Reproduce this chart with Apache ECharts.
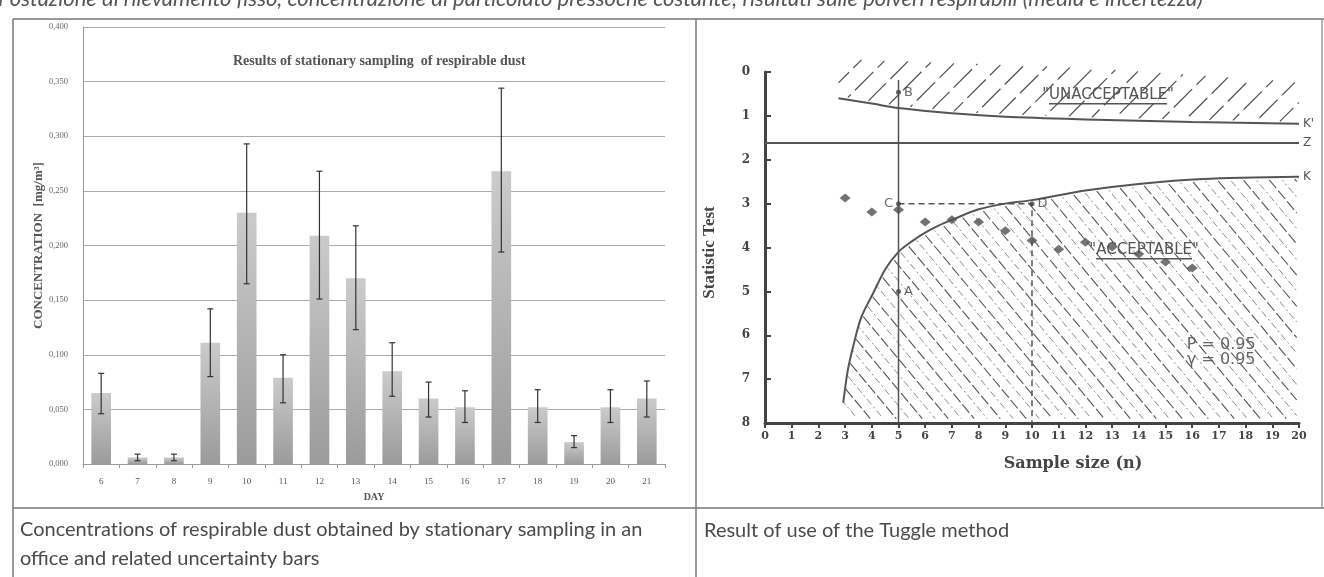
<!DOCTYPE html>
<html>
<head>
<meta charset="utf-8">
<script src="https://cdn.jsdelivr.net/npm/echarts@6/dist/echarts.min.js"></script>
<style>
  html, body { margin: 0; padding: 0; background: #fff; }
  #c { width: 1324px; height: 577px; }
</style>
</head>
<body>
<div id="c"></div>
<script>
// ---- Respirable dust, stationary sampling (mg/m3) ----
const days = ['6','7','8','9','10','11','12','13','14','15','16','17','18','19','20','21'];
const dustMean = [0.065,0.006,0.006,0.111,0.230,0.079,0.209,0.170,0.085,0.060,0.052,0.268,0.052,0.020,0.052,0.060];
const dustLow  = [0.046,0.003,0.003,0.080,0.165,0.056,0.151,0.123,0.062,0.043,0.038,0.194,0.038,0.015,0.038,0.043];
const dustHigh = [0.083,0.009,0.009,0.142,0.293,0.100,0.268,0.218,0.111,0.075,0.067,0.344,0.068,0.026,0.068,0.076];

// ---- Tuggle method: sample size vs statistic test ----
const sampleSize = [3,4,5,6,7,8,9,10,11,12,13,14,15,16];
const statTest   = [2.87,3.19,3.14,3.42,3.37,3.42,3.62,3.84,4.04,3.88,3.99,4.15,4.33,4.47];

// acceptance limit K
const kN = [2.93,3.1,3.3,3.6,4.06,4.5,5.0,5.5,6.0,6.5,7.0,8.0,9.0,10.0,12.0,14.0,16.4,20.0];
const kT = [7.54,6.8,6.26,5.6,5.03,4.5,4.1,3.86,3.66,3.5,3.37,3.13,3.0,2.92,2.7,2.55,2.44,2.39];
// rejection limit K'
const kpN = [2.75,4,5,7,9,12,16,20];
const kpT = [0.6,0.72,0.82,0.94,1.02,1.08,1.14,1.18];
// upper edge of the rejection hatching
const rejTopN = [2.75,12,20];
const rejTopT = [-0.3,-0.1,0.23];
// reference level Z
const zLevel = 1.62;

// reference points of the construction
const refPoints = [
  { name: 'B', value: [5, 0.46], pos: 'right' },
  { name: 'C', value: [5, 3.0],  pos: 'left'  },
  { name: 'A', value: [5, 5.0],  pos: 'right' },
  { name: 'D', value: [10, 3.0], pos: 'right' }
];
const zoneLabels = ['UNACCEPTABLE', 'ACCEPTABLE'];
const zoneN = [12.85, 14.2];
const zoneT = [0.52, 4.05];
const paramLabels = ['P = 0.95', 'γ = 0.95'];
const paramN = [15.8, 15.8];
const paramT = [6.22, 6.56];

const captionLeft = ['Concentrations of respirable dust obtained by stationary sampling in an',
                     'office and related uncertainty bars'];
const captionRight = 'Result of use of the Tuggle method';
const headerLine = 'Postazione di rilevamento fisso, concentrazione di particolato pressoché costante; risultati sulle polveri respirabili (media e incertezza)';

// keep "t" and "i" as separate glyphs
const noLig = s => s.replace(/t(?=i)/g, 't\u200C');

const measureCtx = document.createElement('canvas').getContext('2d');
function textWidth(t, font) { measureCtx.font = font; return measureCtx.measureText(t).width; }

function interp(pts, x) {
  if (x <= pts[0][0]) return pts[0][1];
  for (let i = 1; i < pts.length; i++) {
    if (x <= pts[i][0]) {
      const a = pts[i - 1], b = pts[i];
      return a[1] + (b[1] - a[1]) * (x - a[0]) / (b[0] - a[0]);
    }
  }
  return pts[pts.length - 1][1];
}

// Parallel hatch lines of pixel slope `slope`, clipped to the band
// between topFn(x) and botFn(x) for xMin <= x <= xMax.
function hatchLines(xMin, xMax, topFn, botFn, slope, spacing, styleFor) {
  const out = [];
  let yMin = Infinity, yMax = -Infinity;
  for (let x = xMin; x <= xMax; x += 2) {
    yMin = Math.min(yMin, topFn(x)); yMax = Math.max(yMax, botFn(x));
  }
  const yRef = yMax;
  const corners = [[xMin, yMin], [xMin, yMax], [xMax, yMin], [xMax, yMax]];
  const x0s = corners.map(c => c[0] - (c[1] - yRef) / slope);
  const lo = Math.min.apply(null, x0s), hi = Math.max.apply(null, x0s);
  let idx = 0;
  for (let x0 = lo; x0 <= hi; x0 += spacing, idx++) {
    let start = null, prev = null;
    const flush = () => {
      if (start && prev && Math.hypot(prev[0] - start[0], prev[1] - start[1]) > 2) {
        out.push({ type: 'line', shape: { x1: start[0], y1: start[1], x2: prev[0], y2: prev[1] }, style: styleFor(idx) });
      }
      start = null; prev = null;
    };
    for (let x = xMin; x <= xMax; x += 0.5) {
      const y = yRef + slope * (x - x0);
      const inside = y >= topFn(x) && y <= botFn(x);
      if (inside) { if (!start) start = [x, y]; prev = [x, y]; }
      else if (start) flush();
    }
    flush();
  }
  return out;
}

const chart = echarts.init(document.getElementById('c'));

const option = {
  backgroundColor: '#fff',
  animation: false,
  title: {
    text: 'Results of stationary sampling  of respirable dust',
    left: 228, top: 49,
    textStyle: { fontFamily: 'Liberation Serif', fontWeight: 'bold', fontSize: 14, color: '#555' }
  },
  grid: [
    { left: 83, top: 27, width: 582, height: 437 },
    { left: 765, top: 72, width: 534, height: 351 }
  ],
  xAxis: [
    {
      type: 'category', gridIndex: 0, data: days,
      axisLine: { lineStyle: { color: '#999' } },
      axisTick: { show: true, alignWithLabel: false, length: 4, lineStyle: { color: '#999' } },
      axisLabel: { fontFamily: 'Liberation Serif', fontSize: 9, margin: 13, color: '#555' },
      name: 'DAY', nameLocation: 'middle', nameGap: 28,
      nameTextStyle: { fontFamily: 'Liberation Serif', fontWeight: 'bold', fontSize: 10, color: '#555' }
    },
    {
      type: 'value', gridIndex: 1, min: 0, max: 20, interval: 1,
      axisLine: { show: true, onZero: false, lineStyle: { color: '#444', width: 3 } },
      axisTick: { show: true, length: 5, lineStyle: { color: '#444', width: 2 } },
      splitLine: { show: false },
      axisLabel: { fontFamily: 'DejaVu Serif', fontWeight: 'bold', fontSize: 11, color: '#444', margin: 8 },
      name: 'Sample size (n)', nameLocation: 'middle', nameGap: 33,
      nameTextStyle: { fontFamily: 'DejaVu Serif', fontWeight: 'bold', fontSize: 16, color: '#444', padding: [0, 0, 0, 82] }
    }
  ],
  yAxis: [
    {
      type: 'value', gridIndex: 0, min: 0, max: 0.4, interval: 0.05,
      axisLine: { show: true, lineStyle: { color: '#999' } },
      axisTick: { show: false },
      splitLine: { lineStyle: { color: '#aaa' } },
      axisLabel: { fontFamily: 'Liberation Serif', color: '#666', fontSize: 8.5, margin: 15,
                   formatter: v => v.toFixed(3).replace('.', ',') },
      name: 'CONCENTRATION  [mg/m³]', nameLocation: 'middle', nameGap: 37,
      nameTextStyle: { fontFamily: 'Liberation Serif', fontWeight: 'bold', fontSize: 13, color: '#555' }
    },
    {
      type: 'value', gridIndex: 1, min: 0, max: 8, interval: 1, inverse: true,
      axisLine: { show: true, onZero: false, lineStyle: { color: '#444', width: 3 } },
      axisTick: { show: true, inside: true, length: 6, lineStyle: { color: '#444', width: 2 } },
      splitLine: { show: false },
      axisLabel: { fontFamily: 'DejaVu Serif', fontWeight: 'bold', fontSize: 12, color: '#444', margin: 15 },
      name: 'Statistic Test', nameLocation: 'middle', nameGap: 47,
      nameTextStyle: { fontFamily: 'Liberation Serif', fontWeight: 'bold', fontSize: 17, color: '#444', padding: [0, 10, 0, 0] }
    }
  ],
  series: [
    {
      type: 'bar', xAxisIndex: 0, yAxisIndex: 0, data: dustMean, barWidth: '54%',
      itemStyle: {
        color: new echarts.graphic.LinearGradient(0, 0, 0, 1, [
          { offset: 0, color: '#cbcbcb' }, { offset: 1, color: '#9b9b9b' }
        ])
      }
    },
    {
      // uncertainty bars
      type: 'custom', xAxisIndex: 0, yAxisIndex: 0, z: 10,
      data: days.map((d, i) => [i, dustLow[i], dustHigh[i]]),
      renderItem: (params, api) => {
        const i = api.value(0);
        const lo = api.coord([i, api.value(1)]);
        const hi = api.coord([i, api.value(2)]);
        const w = 3;
        const st = { stroke: '#333', lineWidth: 1.2 };
        return {
          type: 'group', children: [
            { type: 'line', shape: { x1: lo[0], y1: lo[1], x2: hi[0], y2: hi[1] }, style: st },
            { type: 'line', shape: { x1: hi[0] - w, y1: hi[1], x2: hi[0] + w, y2: hi[1] }, style: st },
            { type: 'line', shape: { x1: lo[0] - w, y1: lo[1], x2: lo[0] + w, y2: lo[1] }, style: st }
          ]
        };
      }
    },
    {
      // hatching of the rejection and acceptance zones
      type: 'custom', xAxisIndex: 1, yAxisIndex: 1, z: 1, silent: true,
      data: [[0, 0]],
      renderItem: (params, api) => {
        const px = (n, t) => api.coord([n, t]);
        const kPx = kN.map((n, i) => px(n, kT[i]));
        const kpPx = kpN.map((n, i) => px(n, kpT[i]));
        const topPx = rejTopN.map((n, i) => px(n, rejTopT[i]));
        const bottomY = px(0, 7.9)[1];
        const rej = hatchLines(kpPx[0][0], px(20, 0)[0],
          x => interp(topPx, x), x => interp(kpPx, x) - 2, -1.0, 24,
          i => ({ stroke: '#555', lineWidth: 1.3, lineDash: [26, 6], lineDashOffset: (i * 11) % 32 }));
        const acc = hatchLines(kPx[0][0] + 1, px(20, 0)[0] - 2,
          x => interp(kPx, x) + 2, x => bottomY, 1.2, 13,
          i => (i % 2 === 0
            ? { stroke: '#555', lineWidth: 1.1, lineDash: [11, 3], lineDashOffset: (i * 7) % 14 }
            : { stroke: '#8a8a8a', lineWidth: 1, lineDash: [7, 3, 2, 3], lineDashOffset: (i * 5) % 15 }));
        return { type: 'group', children: rej.concat(acc) };
      }
    },
    {
      type: 'line', xAxisIndex: 1, yAxisIndex: 1, name: "K'",
      data: kpN.map((n, i) => [n, kpT[i]]), smooth: 0.3, symbol: 'none',
      lineStyle: { color: '#555', width: 2 },
      endLabel: { show: true, formatter: "K'", color: '#555', fontFamily: 'DejaVu Sans', fontSize: 12, distance: 4 }
    },
    {
      type: 'line', xAxisIndex: 1, yAxisIndex: 1, name: 'Z',
      data: [[0, zLevel], [20, zLevel]], symbol: 'none',
      lineStyle: { color: '#555', width: 2 },
      endLabel: { show: true, formatter: 'Z', color: '#555', fontFamily: 'DejaVu Sans', fontSize: 12, distance: 4 }
    },
    {
      type: 'line', xAxisIndex: 1, yAxisIndex: 1, name: 'K',
      data: kN.map((n, i) => [n, kT[i]]), smooth: 0.3, symbol: 'none',
      lineStyle: { color: '#555', width: 2 },
      endLabel: { show: true, formatter: 'K', color: '#555', fontFamily: 'DejaVu Sans', fontSize: 12, distance: 4 }
    },
    {
      // construction line at n = 5
      type: 'line', xAxisIndex: 1, yAxisIndex: 1, symbol: 'none',
      data: [[5, 0.18], [5, 8]], lineStyle: { color: '#555', width: 1.5 }
    },
    {
      // C - D and D down to the axis
      type: 'line', xAxisIndex: 1, yAxisIndex: 1, symbol: 'none',
      data: [[5, 3], [10, 3], [10, 8]], lineStyle: { color: '#555', width: 1.5, type: [6, 4] }
    },
    {
      type: 'scatter', xAxisIndex: 1, yAxisIndex: 1, z: 5,
      symbol: 'diamond', symbolSize: [11, 9],
      itemStyle: { color: '#505050' },
      data: sampleSize.map((n, i) => [n, statTest[i]])
    },
    {
      type: 'scatter', xAxisIndex: 1, yAxisIndex: 1, z: 6,
      symbolSize: 5, itemStyle: { color: '#444' },
      data: refPoints.map(p => ({
        name: p.name, value: p.value,
        label: { show: true, formatter: p.name, position: p.pos, distance: 3,
                 color: '#444', fontFamily: 'DejaVu Sans', fontSize: 13 }
      }))
    },
    {
      // zone names and test parameters
      type: 'custom', xAxisIndex: 1, yAxisIndex: 1, z: 7, silent: true,
      data: [[0, 0]],
      renderItem: (params, api) => {
        const children = [];
        const zf = '15px "DejaVu Sans"';
        zoneLabels.forEach((w, i) => {
          const p = api.coord([zoneN[i], zoneT[i]]);
          const half = textWidth(w, zf) / 2;
          children.push({ type: 'text', style: { text: '"' + w + '"', x: p[0], y: p[1], align: 'center', verticalAlign: 'middle', font: zf, fill: '#555' } });
          children.push({ type: 'line', shape: { x1: p[0] - half, y1: p[1] + 9, x2: p[0] + half, y2: p[1] + 9 }, style: { stroke: '#555', lineWidth: 1.6 } });
        });
        paramLabels.forEach((t, i) => {
          const p = api.coord([paramN[i], paramT[i]]);
          children.push({ type: 'text', style: { text: t, x: p[0], y: p[1], align: 'left', verticalAlign: 'middle', font: '16px "DejaVu Sans"', fill: '#666' } });
        });
        return { type: 'group', children };
      }
    }
  ],
  graphic: [
    { type: 'text', style: { x: -2, y: 10, text: headerLine, font: 'italic 22px Lato', fill: '#555', verticalAlign: 'bottom' } },
    { type: 'line', shape: { x1: 13, y1: 19, x2: 1324, y2: 19 }, style: { stroke: '#777', lineWidth: 1.5 } },
    { type: 'line', shape: { x1: 13, y1: 19, x2: 13, y2: 577 }, style: { stroke: '#777', lineWidth: 1.5 } },
    { type: 'line', shape: { x1: 696, y1: 19, x2: 696, y2: 577 }, style: { stroke: '#777', lineWidth: 1.5 } },
    { type: 'line', shape: { x1: 1322, y1: 19, x2: 1322, y2: 508 }, style: { stroke: '#888', lineWidth: 1.2 } },
    { type: 'line', shape: { x1: 13, y1: 508, x2: 1324, y2: 508 }, style: { stroke: '#777', lineWidth: 1.5 } },
    { type: 'text', style: { x: 20, y: 530, text: noLig(captionLeft[0]), font: '20px Lato', fill: '#4a4a4a', verticalAlign: 'middle' } },
    { type: 'text', style: { x: 20, y: 559, text: noLig(captionLeft[1]), font: '20px Lato', fill: '#4a4a4a', verticalAlign: 'middle' } },
    { type: 'text', style: { x: 704, y: 531, text: noLig(captionRight), font: '20px Lato', fill: '#4a4a4a', verticalAlign: 'middle' } }
  ]
};

chart.setOption(option);
</script>
</body>
</html>
